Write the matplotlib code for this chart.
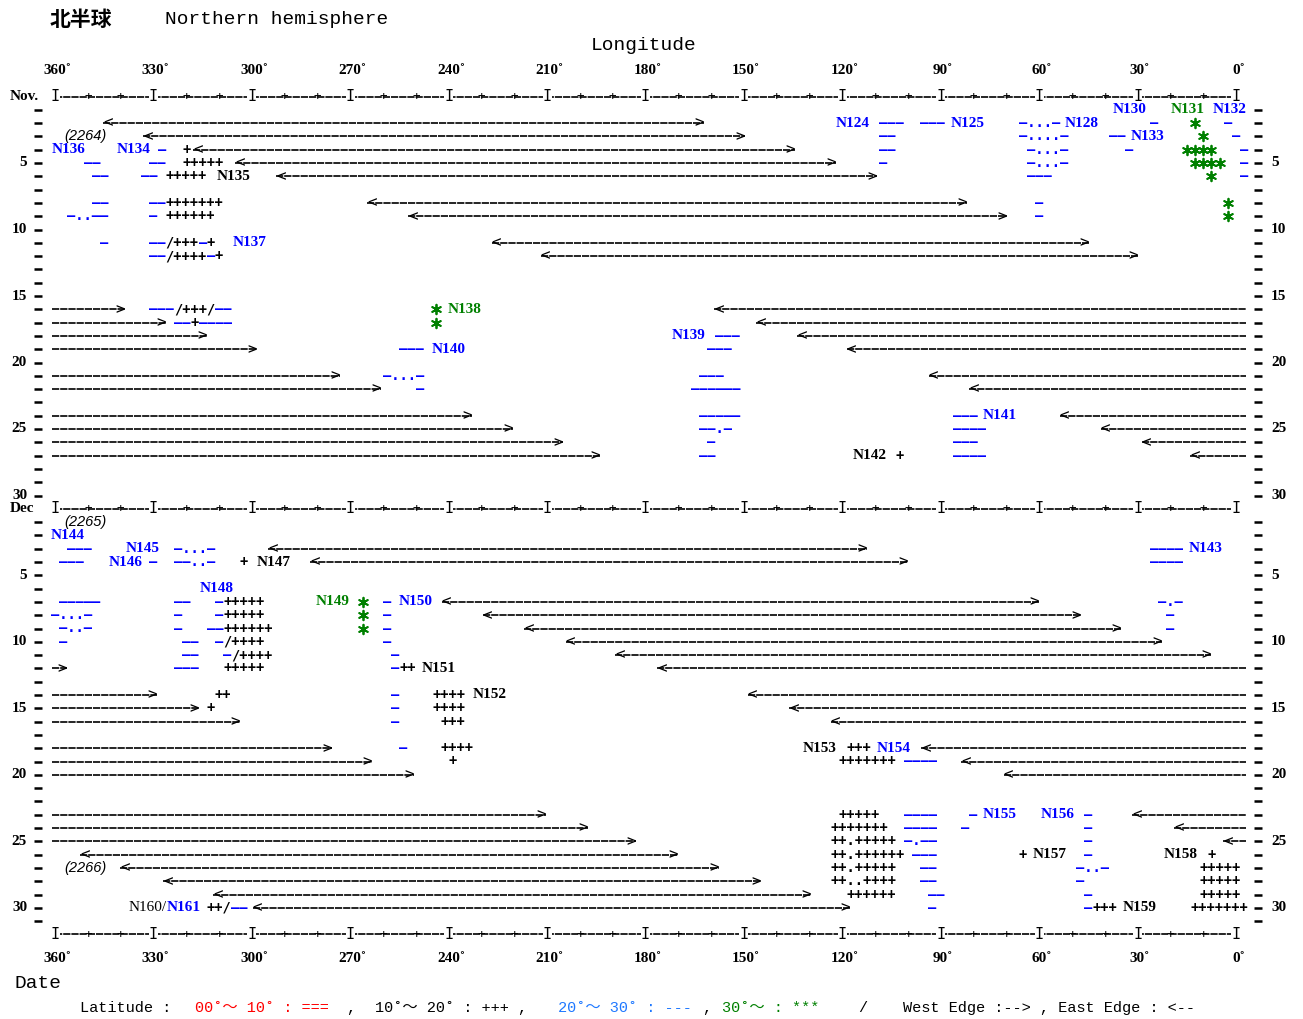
import matplotlib
matplotlib.use('Agg')
import matplotlib.pyplot as plt

plt.rcParams['lines.scale_dashes'] = False

# ---------------------------------------------------------------
# data
# rows: Nov d -> d, Dec d -> 31 + d ; longitude 360 at the left, 0 at the right
# ---------------------------------------------------------------
NOV, DEC, BOTTOM = 0, 31, 63
W_EDGE, E_EDGE = 361.0, -3.0          # arrow runs off the chart

lon_labels = list(range(360, -1, -30))
day_labels = [5, 10, 15, 20, 25, 30]

# edge arrows: row, west end, east end ('<' at west end, '>' at east end, none at chart edge)
arrow_row = [2, 3, 4, 5, 6, 8, 9, 11, 12,
             16, 16, 17, 17, 18, 18, 19, 19, 21, 21, 22, 22,
             24, 24, 25, 25, 26, 26, 27, 27,
             34, 35, 38, 39, 40, 41, 42, 43, 43,
             45, 45, 46, 46, 47, 47, 49, 49, 50, 50, 51, 51,
             54, 54, 55, 55, 56, 56, 57, 58, 59, 60, 61]
arrow_west = [345.3, 333.1, 317.8, 305.1, 292.6, 264.8, 252.3, 226.9, 211.9,
              W_EDGE, 159.0, W_EDGE, 146.3, W_EDGE, 133.7, W_EDGE, 118.7, W_EDGE, 93.7, W_EDGE, 81.4,
              W_EDGE, 53.8, W_EDGE, 41.2, W_EDGE, 28.8, W_EDGE, 14.0,
              295.0, 282.3, 242.1, 229.6, 217.0, 204.3, 189.3, W_EDGE, 176.4,
              W_EDGE, 148.8, W_EDGE, 136.2, W_EDGE, 123.5, W_EDGE, 96.0, W_EDGE, 83.7, W_EDGE, 70.8,
              W_EDGE, 31.6, W_EDGE, 18.9, W_EDGE, 3.9, 352.4, 340.2, 327.0, 311.7, 299.7]
arrow_east = [162.2, 149.7, 134.4, 122.0, 109.5, 82.1, 69.7, 44.7, 29.9,
              338.7, E_EDGE, 326.3, E_EDGE, 313.6, E_EDGE, 298.3, E_EDGE, 273.1, E_EDGE, 260.7, E_EDGE,
              232.8, E_EDGE, 220.3, E_EDGE, 205.1, E_EDGE, 193.9, E_EDGE,
              112.4, 100.1, 60.2, 47.3, 35.0, 22.7, 7.5, 356.4, E_EDGE,
              329.0, E_EDGE, 316.1, E_EDGE, 303.6, E_EDGE, 275.7, E_EDGE, 263.3, E_EDGE, 250.6, E_EDGE,
              210.3, E_EDGE, 197.5, E_EDGE, 182.9, E_EDGE, 170.1, 157.6, 144.9, 129.4, 117.7]

# 20-30 deg latitude marks: row, lon of first character, text
blue_marks = [
    (2, 107.5, '---'), (2, 95, '---'), (2, 65, '-...-'), (2, 25, '-'), (2, 2.5, '-'),
    (3, 107.5, '--'), (3, 65, '-....-'), (3, 37.5, '--'), (3, 0, '-'),
    (4, 327.5, '-'), (4, 107.5, '--'), (4, 62.5, '-...-'), (4, 32.5, '-'), (4, -2.5, '-'),
    (5, 350, '--'), (5, 330, '--'), (5, 107.5, '-'), (5, 62.5, '-...-'), (5, -2.5, '-'),
    (6, 347.5, '--'), (6, 332.5, '--'), (6, 62.5, '---'), (6, -2.5, '-'),
    (8, 347.5, '--'), (8, 330, '--'), (8, 60, '-'),
    (9, 355, '-..--'), (9, 330, '-'), (9, 60, '-'),
    (11, 345, '-'), (11, 330, '--'), (11, 315, '-'),
    (12, 330, '--'), (12, 312.5, '-'),
    (16, 330, '---'), (16, 310, '--'),
    (17, 322.5, '--'), (17, 315, '----'),
    (18, 157.5, '---'),
    (19, 253.75, '---'), (19, 160, '---'),
    (21, 258.75, '-...-'), (21, 162.5, '---'),
    (22, 248.75, '-'), (22, 165, '------'),
    (24, 162.5, '-----'), (24, 85, '---'),
    (25, 162.5, '--.-'), (25, 85, '----'),
    (26, 160, '-'), (26, 85, '---'),
    (27, 162.5, '--'), (27, 85, '----'),
    (34, 355, '---'), (34, 322.5, '-...-'), (34, 25, '----'),
    (35, 357.5, '---'), (35, 330, '-'), (35, 322.5, '--..-'), (35, 25, '----'),
    (38, 357.5, '-----'), (38, 322.5, '--'), (38, 310, '-'), (38, 258.75, '-'), (38, 22.5, '-.-'),
    (39, 360, '-...-'), (39, 322.5, '-'), (39, 310, '-'), (39, 258.75, '-'), (39, 20, '-'),
    (40, 357.5, '-..-'), (40, 322.5, '-'), (40, 312.5, '--'), (40, 258.75, '-'), (40, 20, '-'),
    (41, 357.5, '-'), (41, 320, '--'), (41, 310, '-'), (41, 258.75, '-'),
    (42, 320, '--'), (42, 307.5, '-'), (42, 256.25, '-'),
    (43, 322.5, '---'), (43, 256.25, '-'),
    (45, 256.25, '-'), (46, 256.25, '-'), (47, 256.25, '-'), (49, 253.75, '-'),
    (50, 100, '----'),
    (54, 100, '----'), (54, 80, '-'), (54, 45, '-'),
    (55, 100, '----'), (55, 82.5, '-'), (55, 45, '-'),
    (56, 100, '-.--'), (56, 45, '-'),
    (57, 97.5, '---'), (57, 45, '-'),
    (58, 95, '--'), (58, 47.5, '-..-'),
    (59, 95, '--'), (59, 47.5, '-'),
    (60, 92.5, '--'), (60, 45, '-'),
    (61, 305, '--'), (61, 92.5, '-'), (61, 45, '-'),
]

# 10-20 deg latitude marks
black_marks = [
    (4, 320, '+'), (5, 320, '+++++'), (6, 325, '+++++'), (8, 325, '+++++++'), (9, 325, '++++++'),
    (11, 325, '/+++'), (11, 312.5, '+'), (12, 325, '/++++'), (12, 310, '+'),
    (16, 322.5, '/+++/'), (17, 317.5, '+'), (27, 102.5, '+'),
    (35, 302.5, '+'),
    (38, 307.5, '+++++'), (39, 307.5, '+++++'), (40, 307.5, '++++++'),
    (41, 307.5, '/++++'), (42, 305, '/++++'), (43, 307.5, '+++++'), (43, 253.75, '++'),
    (45, 310, '++'), (45, 243.75, '++++'), (46, 312.5, '+'), (46, 243.75, '++++'),
    (47, 241.25, '+++'), (49, 241.25, '++++'), (49, 117.5, '+++'),
    (50, 238.75, '+'), (50, 120, '+++++++'),
    (54, 120, '+++++'), (55, 122.5, '+++++++'), (56, 122.5, '++.+++++'),
    (57, 122.5, '++.++++++'), (57, 65, '+'), (57, 7.5, '+'),
    (58, 122.5, '++.+++++'), (58, 10, '+++++'),
    (59, 122.5, '++..++++'), (59, 10, '+++++'),
    (60, 117.5, '++++++'), (60, 10, '+++++'),
    (61, 312.5, '++/'), (61, 42.5, '+++'), (61, 12.5, '+++++++'),
]

# above 30 deg latitude
green_marks = [
    (2, 12.5, '*'), (3, 10, '*'), (4, 15, '****'), (5, 12.5, '****'), (6, 7.5, '*'),
    (8, 2.5, '*'), (9, 2.5, '*'), (16, 243.75, '*'), (17, 243.75, '*'),
    (38, 266.25, '*'), (39, 266.25, '*'), (40, 266.25, '*'),
]

# region numbers: row, centre lon, name, colour key
region_labels = [
    (1, 32.5, 'N130', 'b'), (1, 14.7, 'N131', 'g'), (1, 1.9, 'N132', 'b'),
    (2, 116.8, 'N124', 'b'), (2, 81.9, 'N125', 'b'), (2, 47.0, 'N128', 'b'),
    (3, 26.9, 'N133', 'b'), (4, 355.9, 'N136', 'b'), (4, 336.1, 'N134', 'b'),
    (6, 305.7, 'N135', 'k'), (11, 300.8, 'N137', 'b'), (16, 235.1, 'N138', 'g'),
    (18, 166.9, 'N139', 'b'), (19, 240.1, 'N140', 'b'), (24, 72.1, 'N141', 'b'),
    (27, 111.7, 'N142', 'k'),
    (33, 356.1, 'N144', 'b'), (34, 333.4, 'N145', 'b'), (34, 9.3, 'N143', 'b'),
    (35, 338.5, 'N146', 'b'), (35, 293.2, 'N147', 'k'), (37, 310.8, 'N148', 'b'),
    (38, 275.5, 'N149', 'g'), (38, 250.1, 'N150', 'b'), (43, 242.9, 'N151', 'k'),
    (45, 227.6, 'N152', 'k'), (49, 126.8, 'N153', 'k'), (49, 104.3, 'N154', 'b'),
    (54, 71.9, 'N155', 'b'), (54, 54.4, 'N156', 'b'), (57, 56.9, 'N157', 'k'),
    (57, 17.0, 'N158', 'k'), (61, 29.3, 'N159', 'k'),
]
split_label = (61, 326.0, 'N160/', 'N161')

# Carrington rotation numbers
rotation_row = [3, 32, 58]
rotation_text = ['(2264)', '(2265)', '(2266)']

# ---------------------------------------------------------------
BLUE, GREEN, RED, LBLUE = '#0000ff', '#008000', '#ff0000', '#1e78ff'
COLORS = {'b': BLUE, 'g': GREEN, 'k': 'black'}
MONO = 'DejaVu Sans Mono'
SERIF = 'Liberation Serif'
CJK = ['Liberation Mono', 'Noto Sans CJK SC']

W, H = 1303, 1019
PXD = 1181 / 360.0          # pixels per degree
ROWPX = 13.3                # pixels per day row
fig = plt.figure(figsize=(W / 100, H / 100), dpi=100)
ax = fig.add_axes([0, 0, 1, 1])
ax.set_xlim(360 + 55 / PXD, 360 - (W - 55) / PXD)
ax.set_ylim((H - 96.5) / ROWPX, -96.5 / ROWPX)
ax.axis('off')

CH = 2.5                                 # degrees per character cell
FS = CH * PXD / 0.602 * 0.72             # mono font size: one char per cell
DASH = (0, (5.2, 0.7))


def cells(row, lon, s, color):
    s = s.replace('-', '\u2014')
    ax.text(lon + CH / 2, row, s, ha='left', va='center', family=MONO,
            fontsize=FS, fontweight='bold', color=color, zorder=3)


# longitude axes
for r in (NOV, DEC, BOTTOM):
    ax.plot([360, 0], [r, r], color='k', lw=1.2, ls=DASH)
    for lon in range(360, -1, -10):
        major = lon % 30 == 0
        ax.text(lon, r, 'I' if major else '+', ha='center', va='center',
                family=MONO, fontsize=11 if major else 9, color='k', zorder=3,
                bbox=dict(fc='white', ec='none', pad=0) if major else None)
for lon in lon_labels:
    for r in (-1.92, 64.8):
        ax.text(lon - 0.7, r, '%d\u02da' % lon, ha='center', va='center',
                family=SERIF, fontweight='bold', fontsize=11)

# day ticks
rows = [NOV + d for d in range(1, 31)] + [DEC + d for d in range(1, 32)]
ax.hlines(rows, 364.0, 366.4, color='k', lw=1.8)
ax.hlines(rows, -5.5, -7.9, color='k', lw=1.8)
for d in day_labels:
    for base in (NOV, DEC):
        ax.text(368.5, base + d, str(d), ha='right', va='center', family=SERIF,
                fontweight='bold', fontsize=11)
        ax.text(-10.7, base + d, str(d), ha='left', va='center', family=SERIF,
                fontweight='bold', fontsize=11)
ax.text(373.7, NOV, 'Nov.', ha='left', va='center', family=SERIF, fontweight='bold', fontsize=11)
ax.text(373.7, DEC, 'Dec', ha='left', va='center', family=SERIF, fontweight='bold', fontsize=11)

# edge arrows
for r, w, e in zip(arrow_row, arrow_west, arrow_east):
    ax.plot([w, e], [r, r], color='k', lw=1.2, ls=DASH)
    if w != W_EDGE:
        ax.text(w, r, '<', ha='left', va='center', family=MONO, fontsize=11.5, color='k')
    if e != E_EDGE:
        ax.text(e, r, '>', ha='right', va='center', family=MONO, fontsize=11.5, color='k')

for r, lon, s in blue_marks:
    cells(r, lon, s, BLUE)
for r, lon, s in black_marks:
    cells(r, lon, s, 'black')

# asterisks: one per character cell
star_x = [lon - i * CH for r, lon, s in green_marks for i in range(len(s))]
star_y = [r for r, lon, s in green_marks for i in range(len(s))]
ax.scatter(star_x, star_y, marker=(6, 2, 0), s=48, linewidths=1.3, color=GREEN, zorder=3)

for r, lon, name, c in region_labels:
    ax.text(lon, r, name, ha='center', va='center', family=SERIF, fontweight='bold',
            fontsize=11, color=COLORS[c])
r, lon, a, b = split_label
ax.text(lon, r, a, ha='right', va='center', family=SERIF, fontsize=11, color='black')
ax.text(lon, r, b, ha='left', va='center', family=SERIF, fontweight='bold', fontsize=11, color=BLUE)

for r, s in zip(rotation_row, rotation_text):
    ax.text(350.8, r, s, ha='center', va='center', family='Liberation Sans',
            style='italic', fontsize=10.5)


# titles and legend (pixel positions)
def px(x, y):
    return x / W, 1 - y / H


fig.text(*px(50, 20), '北半球', ha='left', va='center', family='Noto Sans CJK SC',
         fontweight='bold', fontsize=15)
fig.text(*px(165, 20), 'Northern hemisphere', ha='left', va='center', family=CJK, fontsize=14)
fig.text(*px(644, 45), 'Longitude', ha='center', va='center', family=CJK, fontsize=14)
fig.text(*px(14, 983), 'Date', ha='left', va='center', family=CJK, fontsize=14)

legend_parts = [
    (80, 'Latitude :', 'black'),
    (195, '00\u02da\uff5e 10\u02da : ===', RED),
    (346, ',', 'black'),
    (375, '10\u02da\uff5e 20\u02da : +++ ,', 'black'),
    (558, '20\u02da\uff5e 30\u02da : ---', LBLUE),
    (702, ',', 'black'),
    (722, '30\u02da\uff5e : ***', GREEN),
    (858, '/', 'black'),
    (903, 'West Edge :--> , East Edge : <--', 'black'),
]
for x, s, c in legend_parts:
    fig.text(*px(x, 1008), s, ha='left', va='center', family=CJK, fontsize=11, color=c)

fig.savefig('out.png', dpi=100)
